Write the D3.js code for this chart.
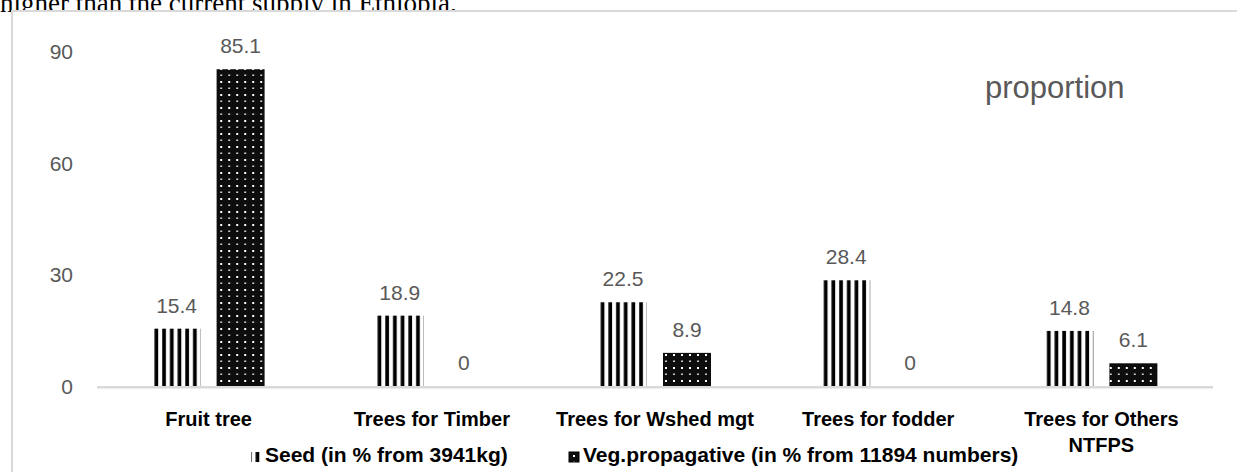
<!DOCTYPE html>
<html>
<head>
<meta charset="utf-8">
<script src="https://cdn.jsdelivr.net/npm/d3@7"></script>
<style>
  html, body { margin: 0; padding: 0; background: #fff; overflow: hidden; }
  svg { display: block; }
</style>
</head>
<body>
<svg id="chart" width="1237" height="472"></svg>
<script>
// ---- data ----
const categories = ["Fruit tree", "Trees for Timber", "Trees for Wshed mgt", "Trees for fodder", "Trees for Others\nNTFPS"];
const seriesNames = ["Seed (in % from 3941kg)", "Veg.propagative (in % from 11894 numbers)"];
const seedValues = [15.4, 18.9, 22.5, 28.4, 14.8];
const vegValues = [85.1, 0, 8.9, 0, 6.1];
const yTicks = [0, 30, 60, 90];
const captionText = "higher than the current supply in Ethiopia.";
const titleText = "proportion";

const svg = d3.select("#chart");
const defs = svg.append("defs");

// caption above the chart frame (partially cut, as in the source)
svg.append("text")
  .attr("x", 0).attr("y", 12)
  .attr("font-family", "'Liberation Serif', 'Times New Roman', serif")
  .attr("font-size", 27)
  .attr("fill", "#000")
  .text(captionText);

// chart frame
svg.append("rect")
  .attr("x", 12).attr("y", 11)
  .attr("width", 1240).attr("height", 480)
  .attr("fill", "#fff")
  .attr("stroke", "#d9d9d9")
  .attr("stroke-width", 2);

// scales
const x0 = d3.scaleBand().domain(categories).range([97, 1213]).padding(0);
const x1 = d3.scaleBand().domain(seriesNames).range([-56, 56]).paddingInner(0.25);
const y = d3.scaleLinear().domain([0, 90]).range([386, 51]);

// patterns
function stripePattern(id, x0pos) {
  const p = defs.append("pattern")
    .attr("id", id).attr("patternUnits", "userSpaceOnUse")
    .attr("x", x0pos).attr("y", 0)
    .attr("width", 7.7).attr("height", 10);
  p.append("rect").attr("width", 7.7).attr("height", 10).attr("fill", "#fff");
  p.append("rect").attr("x", 1.2).attr("width", 3.7).attr("height", 10).attr("fill", "#000");
}
function dotPattern(id, x0pos) {
  const p = defs.append("pattern")
    .attr("id", id).attr("patternUnits", "userSpaceOnUse")
    .attr("x", x0pos).attr("y", 2)
    .attr("width", 8).attr("height", 13);
  p.append("rect").attr("width", 8).attr("height", 13).attr("fill", "#0d0d0d");
  p.append("rect").attr("x", 3).attr("y", 1).attr("width", 2).attr("height", 2).attr("fill", "#fff");
  p.append("rect").attr("x", 3).attr("y", 7.5).attr("width", 2).attr("height", 1.4).attr("fill", "#ddd");
}

const rows = categories.map((c, i) => ({ cat: c, vals: [
  { series: seriesNames[0], value: seedValues[i], kind: "seed" },
  { series: seriesNames[1], value: vegValues[i], kind: "veg" }
]}));

// baseline
svg.append("line")
  .attr("x1", x0.range()[0]).attr("x2", x0.range()[1])
  .attr("y1", y(0) + 1.2).attr("y2", y(0) + 1.2)
  .attr("stroke", "#d9d9d9").attr("stroke-width", 2.5);

// y axis tick labels
const yAxis = d3.axisLeft(y).tickValues(yTicks).tickSize(0).tickPadding(0);
const yG = svg.append("g").attr("transform", "translate(73,0)").call(yAxis);
yG.select(".domain").remove();
yG.selectAll("text")
  .attr("font-family", "'Liberation Sans', Arial, sans-serif")
  .attr("font-size", 21)
  .attr("fill", "#595959")
  .attr("dy", "0.35em");

// bars
const groups = svg.append("g").selectAll("g.cat")
  .data(rows).join("g")
  .attr("class", "cat")
  .attr("transform", d => `translate(${x0(d.cat) + x0.bandwidth() / 2},0)`);

groups.each(function(d, i) {
  const cx = x0(d.cat) + x0.bandwidth() / 2;
  d.vals.forEach(v => {
    const bx = cx + x1(v.series);
    const id = `pat-${v.kind}-${i}`;
    if (v.kind === "seed") stripePattern(id, bx); else dotPattern(id, bx);
    v.pid = id;
  });
});

groups.selectAll("rect.bar")
  .data(d => d.vals).join("rect")
  .attr("class", "bar")
  .attr("x", v => x1(v.series))
  .attr("width", x1.bandwidth())
  .attr("y", v => y(v.value))
  .attr("height", v => y(0) - y(v.value))
  .attr("fill", v => `url(#${v.pid})`);

groups.selectAll("text.val")
  .data(d => d.vals).join("text")
  .attr("class", "val")
  .attr("x", v => x1(v.series) + x1.bandwidth() / 2)
  .attr("y", v => y(v.value) - 16)
  .attr("text-anchor", "middle")
  .attr("font-family", "'Liberation Sans', Arial, sans-serif")
  .attr("font-size", 21)
  .attr("fill", "#595959")
  .text(v => v.value);

// x axis category labels
const xAxis = d3.axisBottom(x0).tickSize(0).tickPadding(0);
const xG = svg.append("g").attr("transform", "translate(0,386)").call(xAxis);
xG.select(".domain").remove();
xG.selectAll(".tick text").each(function(d) {
  const t = d3.select(this);
  const lines = d.split("\n");
  t.text(null)
    .attr("y", 0).attr("dy", null)
    .attr("font-family", "'Liberation Sans', Arial, sans-serif")
    .attr("font-weight", "bold")
    .attr("font-size", 20)
    .attr("fill", "#000");
  lines.forEach((ln, k) => {
    t.append("tspan").attr("x", 0).attr("y", 40 + k * 26).text(ln);
  });
});

// legend
const legendX = [251, 569];
const lg = svg.append("g").selectAll("g.leg")
  .data(seriesNames).join("g")
  .attr("class", "leg")
  .attr("transform", (d, i) => `translate(${legendX[i]},452)`);
stripePattern("leg-seed", 251 - 1.2);
dotPattern("leg-veg", 569);
lg.append("rect")
  .attr("x", 0).attr("y", 0)
  .attr("width", 10).attr("height", 10)
  .attr("fill", (d, i) => i === 0 ? "url(#leg-seed)" : "url(#leg-veg)");
lg.append("rect")
  .attr("x", 0).attr("y", 0)
  .attr("width", 10).attr("height", 10)
  .attr("fill", "none")
  .attr("stroke", (d, i) => i === 0 ? "none" : "#000")
  .attr("stroke-width", 1);
lg.append("text")
  .attr("x", 14).attr("y", 10)
  .attr("font-family", "'Liberation Sans', Arial, sans-serif")
  .attr("font-weight", "bold")
  .attr("font-size", 21)
  .attr("fill", "#000")
  .text(d => d);

// title-like label
svg.append("text")
  .attr("x", 985).attr("y", 98)
  .attr("font-family", "'Liberation Sans', Arial, sans-serif")
  .attr("font-size", 31)
  .attr("fill", "#595959")
  .text(titleText);
</script>
</body>
</html>
